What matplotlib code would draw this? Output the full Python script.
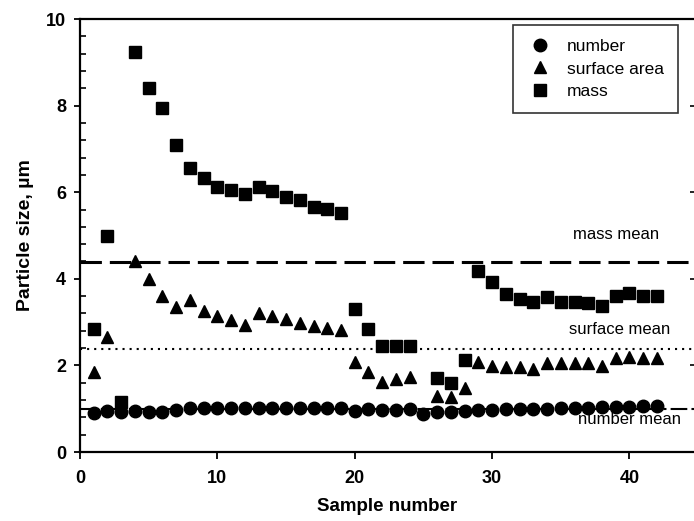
import numpy as np
import matplotlib.pyplot as plt
from matplotlib.ticker import MultipleLocator

# sample numbers and particle sizes (um)
number_x = list(range(1, 43))
number_y = [0.90, 0.95, 0.93, 0.95, 0.93, 0.93, 0.97, 1.02, 1.02, 1.02,
            1.01, 1.01, 1.01, 1.01, 1.01, 1.01, 1.01, 1.02, 1.02, 0.95,
            1.00, 0.97, 0.97, 1.00, 0.88, 0.92, 0.93, 0.95, 0.97, 0.98,
            0.99, 0.99, 1.00, 1.00, 1.01, 1.02, 1.02, 1.03, 1.04, 1.05,
            1.06, 1.07]

surface_x = [1, 2, 4, 5, 6, 7, 8, 9, 10, 11, 12, 13, 14, 15, 16, 17, 18, 19,
             20, 21, 22, 23, 24, 26, 27, 28, 29, 30, 31, 32, 33, 34, 35, 36,
             37, 38, 39, 40, 41, 42]
surface_y = [1.85, 2.66, 4.40, 4.00, 3.61, 3.36, 3.50, 3.26, 3.15, 3.06,
             2.94, 3.22, 3.13, 3.08, 2.99, 2.92, 2.87, 2.82, 2.08, 1.85,
             1.62, 1.68, 1.74, 1.30, 1.27, 1.48, 2.08, 1.99, 1.97, 1.97,
             1.92, 2.06, 2.06, 2.06, 2.06, 1.99, 2.18, 2.20, 2.18, 2.18]

mass_x = [1, 2, 3, 4, 5, 6, 7, 8, 9, 10, 11, 12, 13, 14, 15, 16, 17, 18, 19,
          20, 21, 22, 23, 24, 26, 27, 28, 29, 30, 31, 32, 33, 34, 35, 36, 37,
          38, 39, 40, 41, 42]
mass_y = [2.85, 4.98, 1.15, 9.24, 8.40, 7.94, 7.08, 6.57, 6.32, 6.13, 6.04,
          5.97, 6.11, 6.02, 5.90, 5.81, 5.67, 5.62, 5.53, 3.31, 2.85, 2.45,
          2.45, 2.45, 1.71, 1.60, 2.13, 4.17, 3.93, 3.66, 3.54, 3.47, 3.59,
          3.47, 3.47, 3.45, 3.38, 3.61, 3.68, 3.61, 3.61]

# mean diameters
mass_mean = 4.38
surface_mean = 2.39
number_mean = 1.00

plt.rcParams['font.family'] = ['Liberation Sans', 'DejaVu Sans']

fig = plt.figure(figsize=(6.94, 5.21), dpi=100)
ax = fig.add_axes([0.1153, 0.1324, 0.8847, 0.8311])

ax.axhline(mass_mean, color='black', lw=2.2, ls=(0, (7, 2.6)), zorder=1)
ax.axhline(surface_mean, color='black', lw=1.5, ls=(0, (1, 2.4)), zorder=1)
ax.axhline(number_mean, color='black', lw=1.5, ls=(0, (8, 2, 1.5, 2)), zorder=1)

ax.plot(number_x, number_y, 'o', color='black', ms=9, label='number', zorder=3)
ax.plot(surface_x, surface_y, '^', color='black', ms=9, label='surface area', zorder=3)
ax.plot(mass_x, mass_y, 's', color='black', ms=8, label='mass', zorder=3)

ax.text(39.0, 5.02, 'mass mean', ha='center', va='center', fontsize=12)
ax.text(39.3, 2.82, 'surface mean', ha='center', va='center', fontsize=12)
ax.text(40.0, 0.74, 'number mean', ha='center', va='center', fontsize=12)

ax.set_xlim(0, 44.7)
ax.set_ylim(0, 10)
ax.xaxis.set_major_locator(MultipleLocator(10))
ax.yaxis.set_major_locator(MultipleLocator(2))
ax.yaxis.set_minor_locator(MultipleLocator(0.4))

ax.spines['right'].set_visible(False)
for s in ['left', 'bottom', 'top']:
    ax.spines[s].set_linewidth(1.6)

ax.tick_params(axis='x', which='major', direction='out', length=5, width=1.3,
               labelsize=13, pad=8)
ax.tick_params(axis='y', which='major', direction='out', length=4, width=1.3,
               labelsize=13, pad=6)
ax.tick_params(axis='y', which='minor', direction='in', length=4, width=1.2)
for lab in ax.get_xticklabels() + ax.get_yticklabels():
    lab.set_fontweight('bold')

# inward ticks of the (cropped) right axis
ax2 = ax.twinx()
ax2.set_ylim(0, 10)
ax2.yaxis.set_major_locator(MultipleLocator(2))
ax2.tick_params(axis='y', direction='in', length=3, width=1.2, labelright=False)
for s in ax2.spines.values():
    s.set_visible(False)

ax.set_xlabel('Sample number', fontsize=13.5, fontweight='bold', labelpad=8)
ax.set_ylabel('Particle size, \u00b5m', fontsize=14, fontweight='bold', labelpad=9)

leg = ax.legend(loc='upper right', bbox_to_anchor=(0.974, 0.986), fontsize=12.5,
                frameon=True, fancybox=False, edgecolor='black', borderpad=0.8,
                handletextpad=0.8, labelspacing=0.42, handlelength=1.5,
                borderaxespad=0)
leg.get_frame().set_linewidth(1.2)

fig.savefig('out.png', dpi=100)
